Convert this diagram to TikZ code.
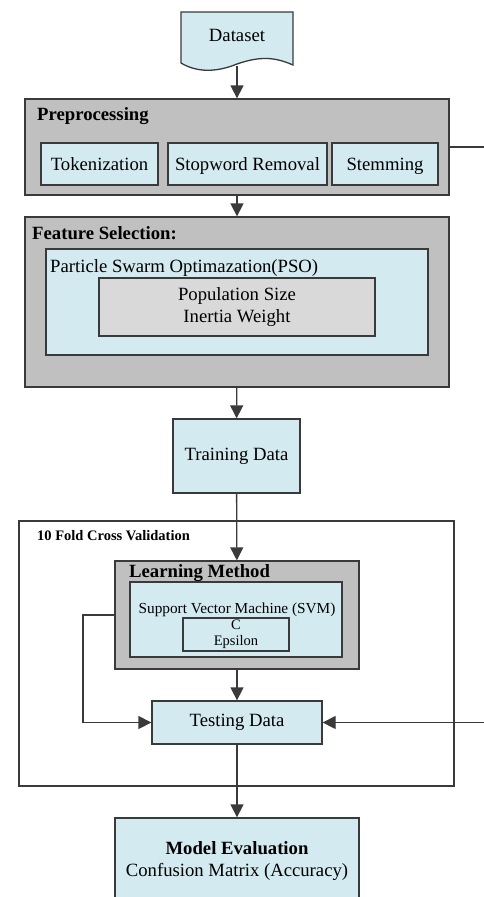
\documentclass[tikz,border=0pt]{standalone}
\usepackage{fontspec}
\setmainfont{Liberation Serif}
\usetikzlibrary{positioning,arrows.meta}

\definecolor{boxblue}{HTML}{D2EAF0}
\definecolor{boxgray}{HTML}{C0C0C0}
\definecolor{pargray}{HTML}{D9D9D9}
\definecolor{linegray}{HTML}{3A3A3A}

\begin{document}
\begin{tikzpicture}[x=1pt, y=-1pt,
    font=\fontsize{18.7}{22}\selectfont,
    blk/.style={draw=linegray, line width=1.3pt, fill=boxblue, inner sep=0pt, align=center},
    grp/.style={draw=linegray, line width=1.3pt, fill=boxgray, inner sep=0pt},
    par/.style={draw=linegray, line width=1.3pt, fill=pargray, inner sep=0pt, align=center},
    step3/.style={blk, minimum height=42pt, text height=16pt, text depth=4pt},
    ttl/.style={anchor=west, inner sep=0pt, font=\fontsize{18.7}{22}\selectfont\bfseries},
    arr/.style={draw=linegray, line width=1.3pt, -{Triangle[length=13pt, width=13pt]}}]

    \useasboundingbox (0,0) rectangle (484,897);
    \clip (0,0) rectangle (484,897);

    % input document
    \draw[draw=linegray, line width=1.3pt, fill=boxblue]
        (181,12) -- (293,12) -- (293,65)
        .. controls (275,57) and (260,56) .. (237,64)
        .. controls (215,73) and (196,72) .. (181,63) -- cycle;
    \node[inner sep=0pt] (data) at (237,35) {Dataset};
    \coordinate (databot) at (237,66);

    % preprocessing
    \node[grp, minimum width=424pt, minimum height=96pt] (pre) at (237,147) {};
    \node[ttl] (pret) at (37,116) {Preprocessing};
    \node[step3, minimum width=117pt] (tok)  at (99.5,164) {Tokenization};
    \node[step3, minimum width=159pt] (stop) at (247.5,164) {Stopword Removal};
    \node[step3, minimum width=106pt] (stem) at (385,164) {Stemming};

    % feature selection
    \node[grp, minimum width=424pt, minimum height=170pt] (fs) at (237,302) {};
    \node[ttl] (fst) at (32,233) {Feature Selection:};
    \node[blk, minimum width=382pt, minimum height=106pt] (pso) at (237,302) {};
    \node[anchor=west, inner sep=0pt] (psot) at (50,268) {Particle Swarm Optimazation(PSO)};
    \node[par, minimum width=276pt, minimum height=58pt] (psopar) at (237,307)
        {Population Size\\Inertia Weight};

    \node[blk, minimum width=127pt, minimum height=74pt] (train) at (236.5,456) {Training Data};

    % cross validation
    \node[draw=linegray, line width=1.3pt, minimum width=435pt, minimum height=265pt] (cv) at (236.5,653.5) {};
    \node[ttl, font=\fontsize{14.5}{17}\selectfont\bfseries] (cvt) at (37,536) {10 Fold Cross Validation};
    \node[grp, minimum width=244pt, minimum height=108pt] (lm) at (237,615) {};
    \node[ttl] (lmt) at (129,573) {Learning Method};
    \node[blk, minimum width=212pt, minimum height=75pt] (svm) at (236,619.5) {};
    \node[inner sep=0pt, font=\fontsize{15.3}{18}\selectfont] (svmt) at (237,610) {Support Vector Machine (SVM)};
    \node[par, fill=boxblue, minimum width=106pt, minimum height=33pt,
        font=\fontsize{14.5}{16}\selectfont] (svmpar) at (236,634.5) {C\\Epsilon};
    \node[blk, minimum width=170pt, minimum height=43pt] (test) at (237,722.5) {Testing Data};

    \node[blk, minimum width=244pt, minimum height=87pt] (eval) at (237,861.5)
        {\textbf{Model Evaluation}\\Confusion Matrix (Accuracy)};

    \coordinate (loopl) at (83,615);
    \coordinate (loopr) at (492,147);

    \path
        (databot) edge[arr] (pre)
        (pre) edge[arr] (fs)
        (fs) edge[arr] (train)
        (train) edge[arr] (lm)
        (lm) edge[arr] (test)
        (test) edge[arr] (eval);
    \draw[arr] (lm.west) -- (loopl) |- (test.west);
    \draw[arr] (pre.east) -- (loopr) |- (test.east);

\end{tikzpicture}
\end{document}
